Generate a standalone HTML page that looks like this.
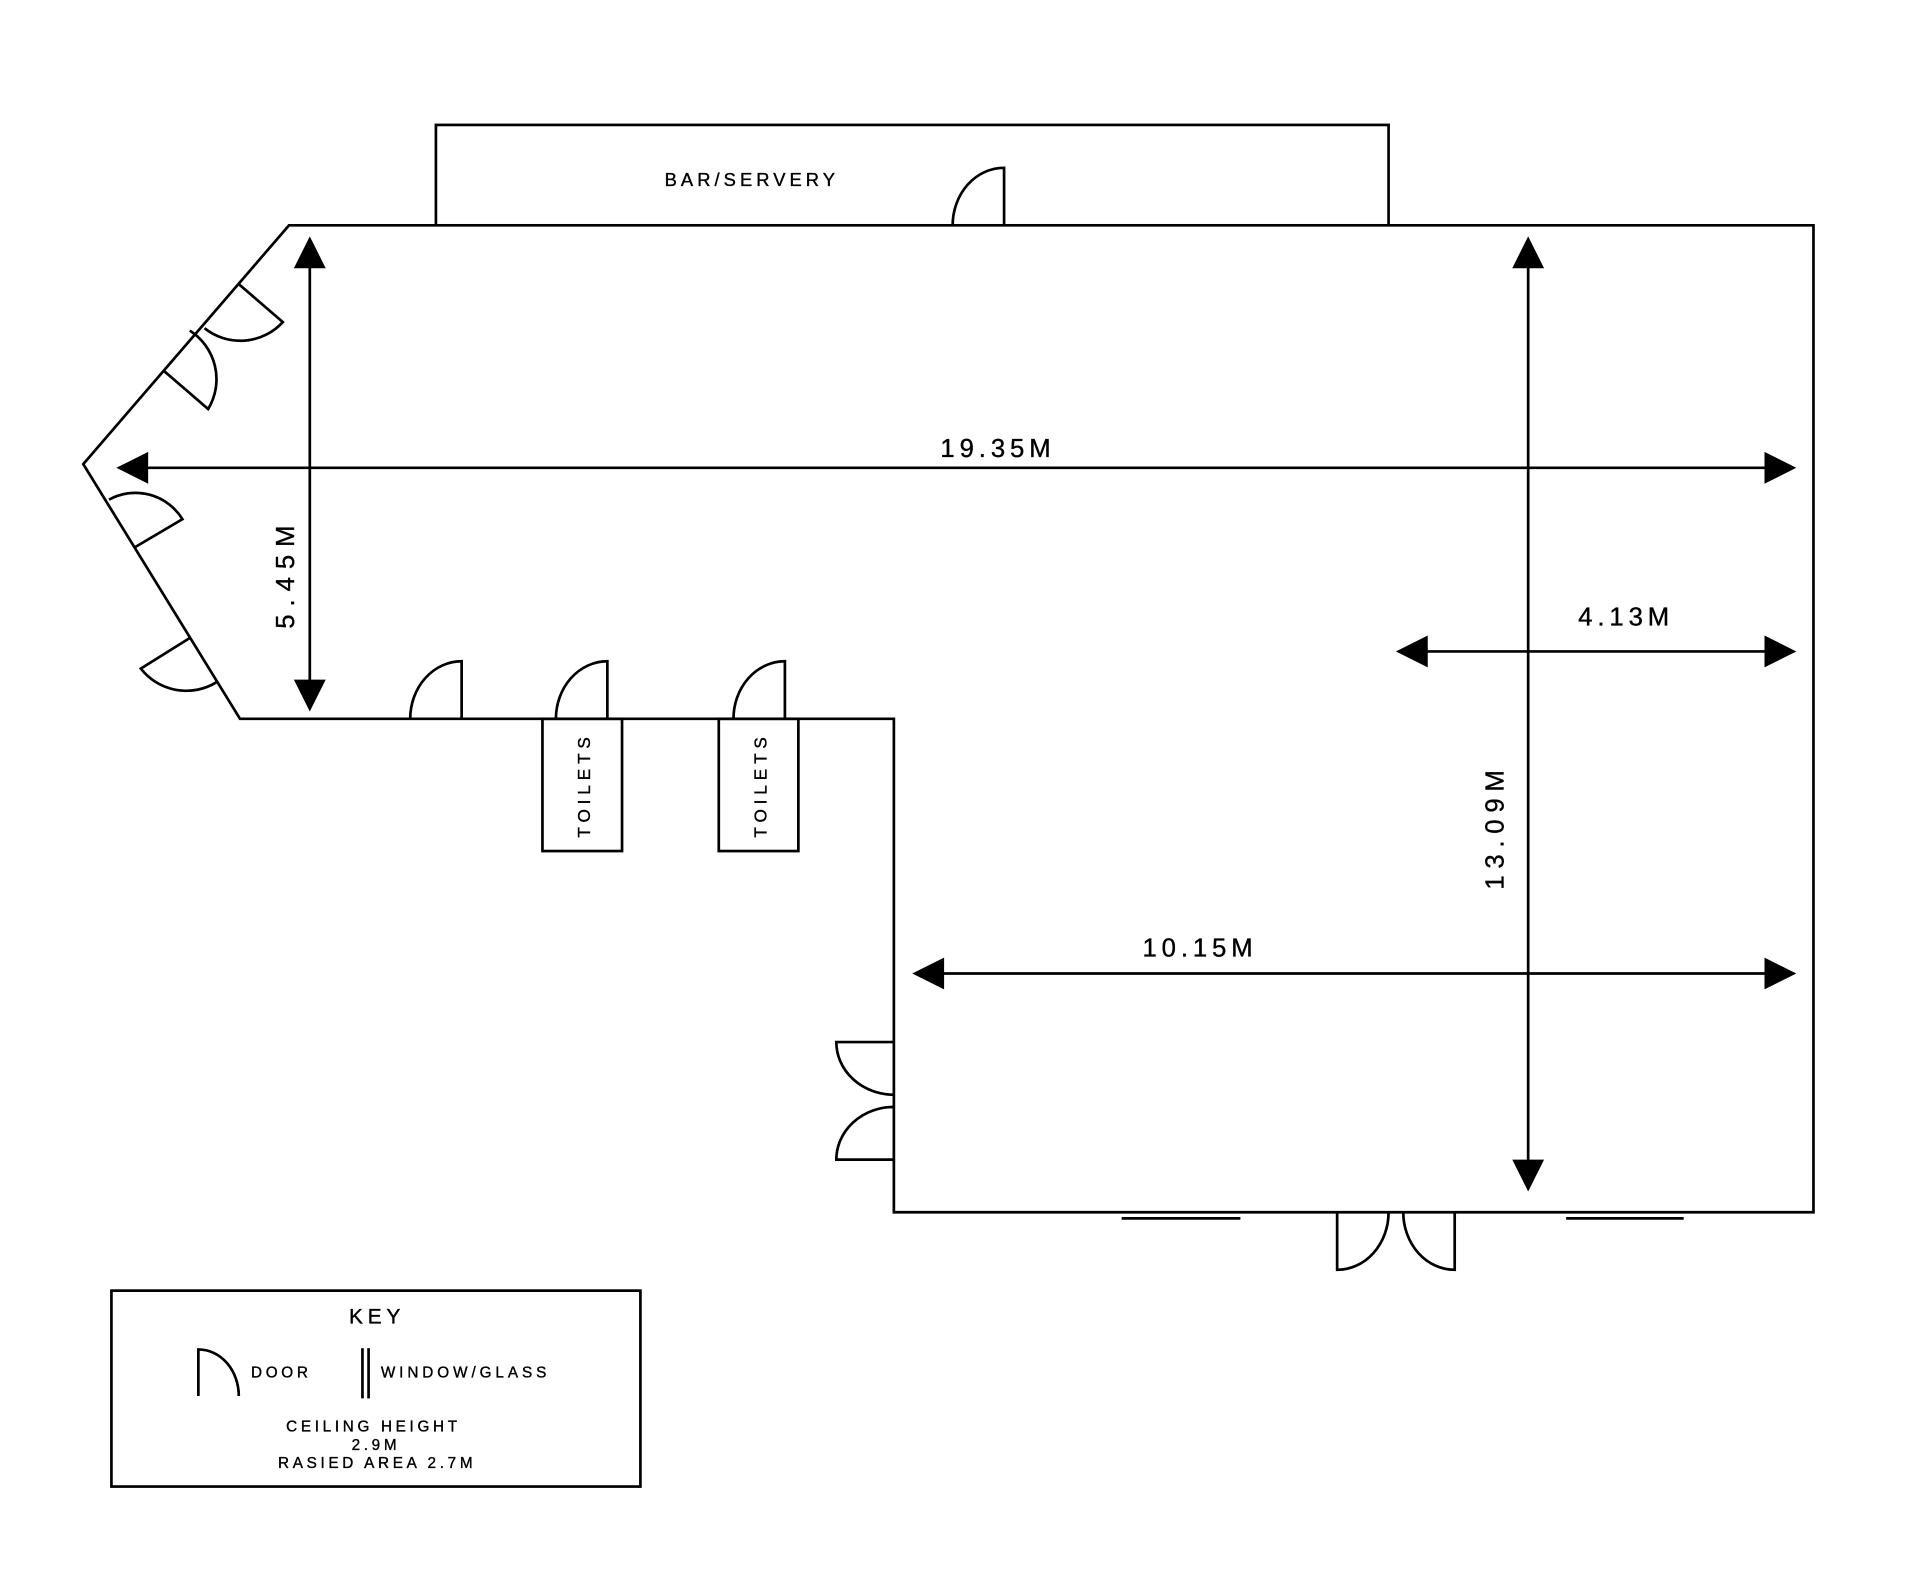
<!DOCTYPE html>
<html><head><meta charset="utf-8"><style>
html,body{margin:0;padding:0;background:#fff;}
svg{display:block;}
text{font-family:"Liberation Sans",sans-serif;fill:#000;}
</style></head><body>
<svg width="1920" height="1587" viewBox="0 0 1568 1296" xmlns="http://www.w3.org/2000/svg">
<g fill="none" stroke="#000" stroke-width="2.2">
<rect x="356" y="102" width="778" height="82"/>
<polygon points="236,184 1481,184 1481,990 730,990 730,587 196,587 68,379" fill="#fff"/>
<path d="M820,184 V137 A42,47 0 0 0 778,184"/>
<path d="M195,232 L231,263 A47,47 0 0 1 167,268"/>
<path d="M134,303 L170,334 A47,47 0 0 0 155,270"/>
<path d="M110,447 L149,424 A45,45 0 0 0 89,408"/>
<path d="M155,521 L115,546 A47,47 0 0 0 177,557"/>
<path d="M377,587 V540 A42,47 0 0 0 335,587"/>
<path d="M496,587 V540 A42,47 0 0 0 454,587"/>
<path d="M641,587 V540 A42,47 0 0 0 599,587"/>
<rect x="443" y="587" width="65" height="108"/>
<rect x="587" y="587" width="65" height="108"/>
<path d="M730,851 H683 A47,43 0 0 0 730,894"/>
<path d="M730,947 H683 A47,43 0 0 1 730,904"/>
<path d="M1092,990 V1037 A42,47 0 0 0 1134,990"/>
<path d="M1188,990 V1037 A42,47 0 0 1 1146,990"/>
<line x1="916" y1="995" x2="1013" y2="995"/>
<line x1="1279" y1="995" x2="1375" y2="995"/>
<line x1="110" y1="382" x2="1455" y2="382"/>
<line x1="253" y1="210" x2="253" y2="566"/>
<line x1="1248" y1="210" x2="1248" y2="958"/>
<line x1="1155" y1="532" x2="1455" y2="532"/>
<line x1="760" y1="795" x2="1455" y2="795"/>
<rect x="91" y="1054" width="432" height="160"/>
<path d="M162,1140 V1102 A33,38 0 0 1 195,1140"/>
<line x1="296" y1="1101" x2="296" y2="1142"/>
<line x1="301" y1="1101" x2="301" y2="1142"/>
</g>
<g fill="#000">
<polygon points="95,382 121,369 121,395"/>
<polygon points="1467,382 1441,369 1441,395"/>
<polygon points="253,193 240,219 266,219"/>
<polygon points="253,581 240,555 266,555"/>
<polygon points="1248,193 1235,219 1261,219"/>
<polygon points="1248,973 1235,947 1261,947"/>
<polygon points="1140,532 1166,519 1166,545"/>
<polygon points="1467,532 1441,519 1441,545"/>
<polygon points="745,795 771,782 771,808"/>
<polygon points="1467,795 1441,782 1441,808"/>
</g>
<g stroke="#000" stroke-width="0.3">
<text x="614" y="152" font-size="15" letter-spacing="3.3" text-anchor="middle">BAR/SERVERY</text>
<text x="815" y="373" font-size="21" letter-spacing="4" text-anchor="middle">19.35M</text>
<text x="1328" y="511" font-size="21" letter-spacing="4" text-anchor="middle">4.13M</text>
<text x="980" y="781" font-size="21" letter-spacing="4" text-anchor="middle">10.15M</text>
<text transform="translate(240,468) rotate(-90)" font-size="21" letter-spacing="6.5" text-anchor="middle">5.45M</text>
<text transform="translate(1228,675) rotate(-90)" font-size="21" letter-spacing="5.5" text-anchor="middle">13.09M</text>
<text transform="translate(482,641) rotate(-90)" font-size="14" letter-spacing="4" text-anchor="middle">TOILETS</text>
<text transform="translate(626,641) rotate(-90)" font-size="14" letter-spacing="4" text-anchor="middle">TOILETS</text>
<text x="308" y="1081" font-size="17" letter-spacing="4" text-anchor="middle">KEY</text>
<text x="205" y="1125" font-size="12.5" letter-spacing="3">DOOR</text>
<text x="311" y="1125" font-size="12.5" letter-spacing="3.2">WINDOW/GLASS</text>
<text x="305" y="1169" font-size="12.5" letter-spacing="3" text-anchor="middle">CEILING HEIGHT</text>
<text x="307" y="1184" font-size="12.5" letter-spacing="3" text-anchor="middle">2.9M</text>
<text x="308" y="1199" font-size="12.5" letter-spacing="3" text-anchor="middle">RASIED AREA 2.7M</text>
</g>
</svg>
</body></html>
